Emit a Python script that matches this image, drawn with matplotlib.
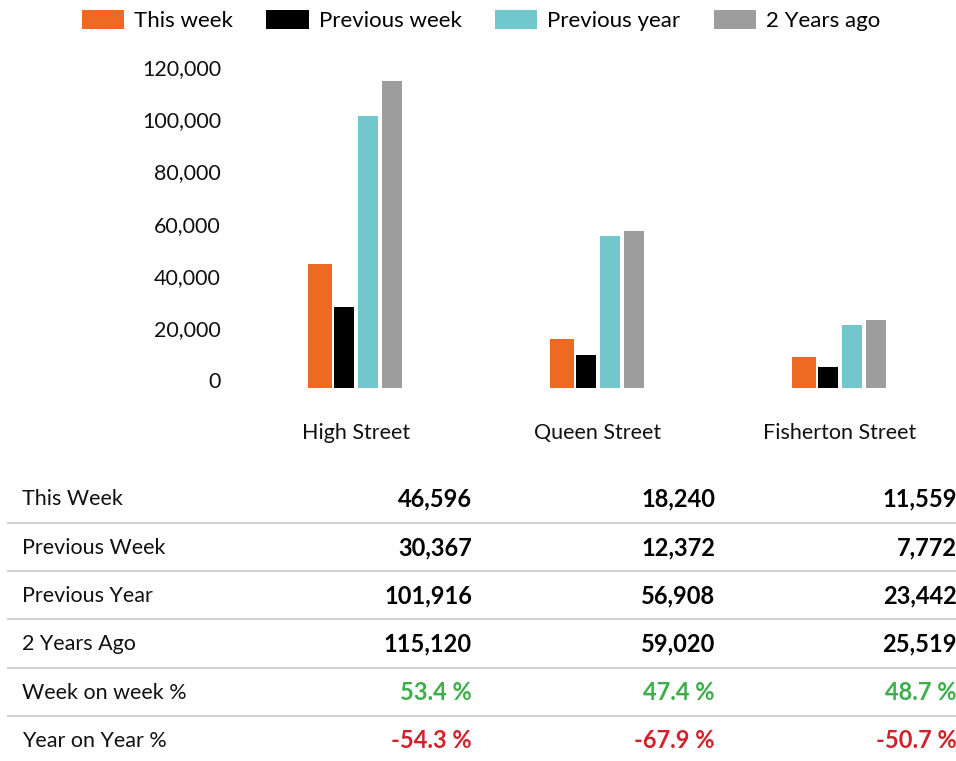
import matplotlib.pyplot as plt
import matplotlib.transforms as mtransforms
import numpy as np

plt.rcParams['font.family'] = ['Lato', 'DejaVu Sans']

# data
streets = ["High Street", "Queen Street", "Fisherton Street"]
series = ["This week", "Previous week", "Previous year", "2 Years ago"]
this_week = [46596, 18240, 11559]
prev_week = [30367, 12372, 7772]
prev_year = [101916, 56908, 23442]
two_years = [115120, 59020, 25519]
wow_pct = [53.4, 47.4, 48.7]
yoy_pct = [-54.3, -67.9, -50.7]
row_labels = ["This Week", "Previous Week", "Previous Year", "2 Years Ago",
              "Week on week %", "Year on Year %"]
colors = ["#ee6a22", "#000000", "#72c7cd", "#9d9d9d"]

W, H = 956, 761
fig = plt.figure(figsize=(W / 100, H / 100), dpi=100)

# bar chart
ax = fig.add_axes([235 / W, 1 - 388 / H, 1 - 235 / W, 320 / H])
x = np.arange(len(streets))
step = 0.1
widths = [0.099, 0.083, 0.083, 0.083]
for i, (vals, name) in enumerate(zip([this_week, prev_week, prev_year, two_years], series)):
    ax.bar(x + (i - 1.5) * step, vals, width=widths[i], color=colors[i], label=name)

ax.set_xlim(-0.5, 2.48)
ax.set_ylim(0, 120000)
ax.set_yticks(np.arange(0, 120001, 20000))
ax.set_yticklabels([f"{v:,}" for v in range(0, 120001, 20000)])
ax.set_xticks(x)
ax.set_xticklabels(streets)
ax.tick_params(axis='both', length=0, labelsize=15.5, colors='#111111')
ax.tick_params(axis='y', pad=10)
ax.tick_params(axis='x', pad=25)
for s in ax.spines.values():
    s.set_visible(False)
# the original's y labels sit a bit above their ticks
for k, lab in enumerate(ax.get_yticklabels()):
    off = mtransforms.ScaledTranslation(0, (8 - 1.2 * k) / 100, fig.dpi_scale_trans)
    lab.set_transform(lab.get_transform() + off)

fig.legend(loc='upper center', bbox_to_anchor=(481 / W, 1.0), ncol=4, frameon=False,
           fontsize=16, handlelength=1.9, handleheight=0.95, handletextpad=0.45,
           columnspacing=1.5, borderaxespad=0.05)

# table
tab = fig.add_axes([0, 0, 1, 1])
tab.set_xlim(0, W)
tab.set_ylim(H, 0)
tab.axis('off')

row_y = [498, 547, 595, 643, 692, 740]
col_x = [471, 714, 956]
rows = [
    [f"{v:,}" for v in this_week],
    [f"{v:,}" for v in prev_week],
    [f"{v:,}" for v in prev_year],
    [f"{v:,}" for v in two_years],
    [f"{v:.1f} %" for v in wow_pct],
    [f"{v:.1f} %" for v in yoy_pct],
]
row_colors = ["#000000"] * 4 + ["#3cae4a", "#d1222b"]

for r, (label, vals) in enumerate(zip(row_labels, rows)):
    y = row_y[r]
    tab.text(22, y + 1, label, fontsize=15.5, va='center', ha='left', color='#111111')
    for cx, v in zip(col_x, vals):
        tab.text(cx + 1, y + 1, v, fontsize=17, fontweight='bold', va='center', ha='right',
                 color=row_colors[r])
    if r < len(row_labels) - 1:
        ly = (row_y[r] + row_y[r + 1]) / 2
        tab.plot([8, W], [ly, ly], color='#cccccc', lw=1.3)

fig.savefig("out.png", dpi=100)
